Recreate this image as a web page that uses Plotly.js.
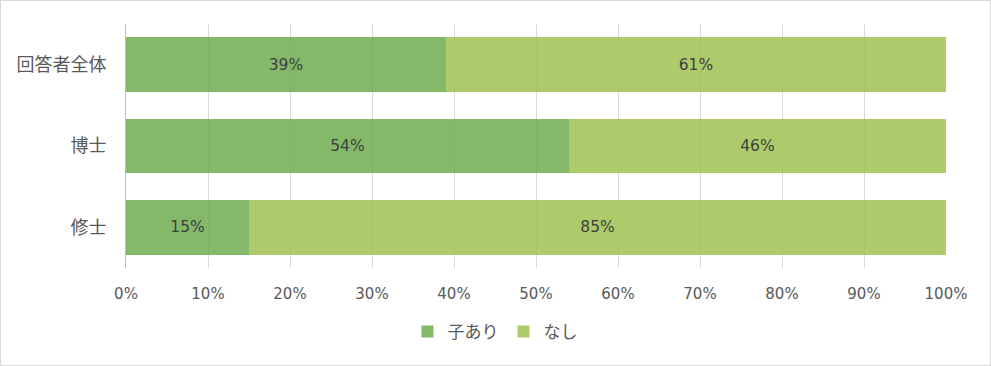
<!DOCTYPE html>
<html><head><meta charset="utf-8">
<script src="https://cdn.plot.ly/plotly-3.0.1.min.js"></script>
<style>html,body{margin:0;padding:0;background:#fff}#c{width:989px;height:364px;border:1px solid #D9D9D9}</style>
</head><body><div id="c"></div>
<script>
const categories = ['回答者全体', '博士', '修士'];
const withChild = [39, 54, 15];
const noChild = [61, 46, 85];
const seriesNames = ['子あり', 'なし'];
const font = '"DejaVu Sans", "Noto Sans CJK JP", sans-serif';
const cjk = '"Noto Sans CJK JP", "Noto Sans", sans-serif';
const traces = [
  {type:'bar', orientation:'h', y:categories, x:withChild, name:seriesNames[0],
   marker:{color:'rgba(112,173,80,0.85)'}, text:withChild.map(v=>v+'%'), textposition:'inside',
   insidetextanchor:'middle', textfont:{size:15.5,color:'#404040',family:font}, hoverinfo:'skip'},
  {type:'bar', orientation:'h', y:categories, x:noChild, name:seriesNames[1],
   marker:{color:'rgba(159,194,80,0.85)'}, text:noChild.map(v=>v+'%'), textposition:'inside',
   insidetextanchor:'middle', textfont:{size:15.5,color:'#404040',family:font}, hoverinfo:'skip'}
];
const layout = {
  width:989, height:364, barmode:'stack', bargap:0.33,
  margin:{l:125, r:44, t:23, b:97},
  paper_bgcolor:'#fff', plot_bgcolor:'#fff',
  font:{family:font, size:14, color:'#595959'},
  xaxis:{range:[0,100], dtick:10, ticksuffix:'%', showgrid:true, gridcolor:'#D9D9D9',
    zeroline:false, showline:false, ticks:'', ticklabelstandoff:15,
    tickfont:{size:15,color:'#595959',family:font}, fixedrange:true},
  yaxis:{autorange:'reversed', showgrid:false, showline:true, linecolor:'#BFBFBF', linewidth:1,
    ticks:'', ticklabelstandoff:15, tickfont:{size:18,color:'#595959',family:cjk}, fixedrange:true},
  legend:{orientation:'h', x:0.45, xanchor:'center', y:-0.262, yanchor:'middle', itemwidth:30,
    font:{size:17,color:'#595959',family:cjk}, traceorder:'normal'},
  showlegend:true, hovermode:false
};
Plotly.newPlot('c', traces, layout, {displayModeBar:false, staticPlot:true});
</script></body></html>
